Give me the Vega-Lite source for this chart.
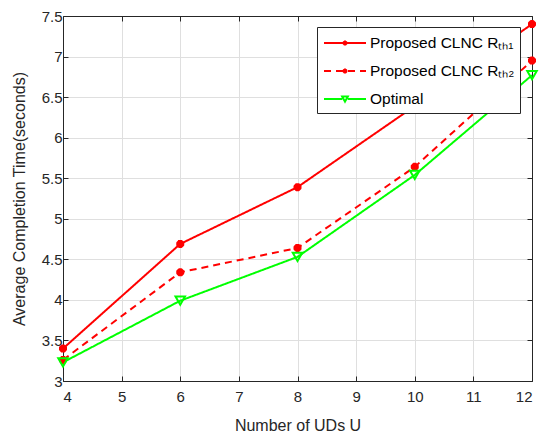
{
  "$schema": "https://vega.github.io/schema/vega-lite/v6.json",
  "autosize": "none",
  "width": 469,
  "height": 365,
  "padding": {"left": 63, "top": 16, "right": 9, "bottom": 54},
  "background": "white",
  "config": {
    "font": "Liberation Sans",
    "view": {"stroke": null},
    "axis": {
      "labelFont": "Liberation Sans",
      "titleFont": "Liberation Sans",
      "labelFontSize": 15,
      "titleFontSize": 16,
      "titleFontWeight": "normal",
      "labelColor": "#262626",
      "titleColor": "#262626",
      "domainColor": "#262626",
      "tickColor": "#262626",
      "gridColor": "#dfdfdf",
      "gridWidth": 1,
      "domainWidth": 1,
      "tickSize": -5,
      "tickWidth": 1
    }
  },
  "data": {
    "values": [
      {"U": 4, "value": 3.40, "series": "Proposed CLNC Rₜₕ₁"},
      {"U": 6, "value": 4.69, "series": "Proposed CLNC Rₜₕ₁"},
      {"U": 8, "value": 5.39, "series": "Proposed CLNC Rₜₕ₁"},
      {"U": 10, "value": 6.39, "series": "Proposed CLNC Rₜₕ₁"},
      {"U": 12, "value": 7.40, "series": "Proposed CLNC Rₜₕ₁"},
      {"U": 4, "value": 3.26, "series": "Proposed CLNC Rₜₕ₂"},
      {"U": 6, "value": 4.34, "series": "Proposed CLNC Rₜₕ₂"},
      {"U": 8, "value": 4.64, "series": "Proposed CLNC Rₜₕ₂"},
      {"U": 10, "value": 5.64, "series": "Proposed CLNC Rₜₕ₂"},
      {"U": 12, "value": 6.95, "series": "Proposed CLNC Rₜₕ₂"},
      {"U": 4, "value": 3.23, "series": "Optimal"},
      {"U": 6, "value": 3.99, "series": "Optimal"},
      {"U": 8, "value": 4.53, "series": "Optimal"},
      {"U": 10, "value": 5.54, "series": "Optimal"},
      {"U": 12, "value": 6.77, "series": "Optimal"}
    ]
  },
  "resolve": {"axis": {"x": "independent", "y": "independent"}},
  "layer": [
    {
      "mark": {"type": "line", "strokeWidth": 2},
      "encoding": {
        "x": {
          "field": "U", "type": "quantitative",
          "scale": {"domain": [4, 12], "nice": false, "zero": false},
          "axis": {"title": "Number of UDs U", "values": [4,5,6,7,8,9,10,11,12], "labelPadding": 13, "titlePadding": 13, "grid": true}
        },
        "y": {
          "field": "value", "type": "quantitative",
          "scale": {"domain": [3, 7.5], "nice": false, "zero": false},
          "axis": {"title": "Average Completion Time(seconds)", "format": "~g", "values": [3,3.5,4,4.5,5,5.5,6,6.5,7,7.5], "labelPadding": 6, "titlePadding": 14, "grid": true}
        },
        "color": {
          "field": "series", "type": "nominal",
          "scale": {
            "domain": ["Proposed CLNC Rₜₕ₁", "Proposed CLNC Rₜₕ₂", "Optimal"],
            "range": ["#ff0000", "#ff0000", "#00ff00"]
          },
          "legend": {
            "title": null,
            "orient": "none",
            "legendX": 254,
            "legendY": 11,
            "fillColor": "white",
            "strokeColor": "#262626",
            "padding": 5,
            "rowPadding": 8,
            "labelFont": "Liberation Sans",
            "labelFontSize": 15.5,
            "labelColor": "#000000",
            "labelOffset": 14,
            "symbolOffset": 12,
            "symbolSize": 400,
            "symbolStrokeWidth": 2,
            "symbolType": "M-2.1,0L2.1,0",
            "labelLimit": 300,
            "encode": {
              "symbols": {
                "update": {
                  "shape": {"signal": "datum.value === 'Optimal' ? 'M-2.1,0L-0.28,0M0.28,0L2.1,0M-0.28,-0.24L0.28,-0.24L0,0.26Z' : 'M-2.1,0L2.1,0M-0.24,0L0.24,0M0,-0.24L0,0.24M-0.17,-0.17L0.17,0.17M-0.17,0.17L0.17,-0.17'"},
                  "strokeDash": {"signal": "datum.value === 'Proposed CLNC Rₜₕ₂' ? [7,5] : [1,0]"},
                  "fill": {"value": "transparent"}
                }
              }
            }
          }
        },
        "strokeDash": {
          "field": "series", "type": "nominal",
          "scale": {
            "domain": ["Proposed CLNC Rₜₕ₁", "Proposed CLNC Rₜₕ₂", "Optimal"],
            "range": [[1, 0], [7, 5], [1, 0]]
          },
          "legend": null
        }
      }
    },
    {
      "transform": [{"filter": "datum.series !== 'Optimal'"}],
      "mark": {
        "type": "point",
        "shape": "M-1,0L1,0M0,-1L0,1M-0.7,-0.7L0.7,0.7M-0.7,0.7L0.7,-0.7",
        "filled": false,
        "stroke": "#ff0000",
        "strokeWidth": 3,
        "size": 64,
        "opacity": 1
      },
      "encoding": {
        "x": {"field": "U", "type": "quantitative", "scale": {"domain": [4, 12], "nice": false, "zero": false}, "axis": {"orient": "top", "title": null, "labels": false, "values": [4,5,6,7,8,9,10,11,12], "grid": false}},
        "y": {"field": "value", "type": "quantitative", "scale": {"domain": [3, 7.5], "nice": false, "zero": false}, "axis": {"orient": "right", "title": null, "labels": false, "values": [3,3.5,4,4.5,5,5.5,6,6.5,7,7.5], "grid": false}}
      }
    },
    {
      "transform": [{"filter": "datum.series === 'Optimal'"}],
      "mark": {
        "type": "point",
        "shape": "triangle-down",
        "filled": false,
        "stroke": "#00ff00",
        "strokeWidth": 2,
        "size": 90,
        "opacity": 1
      },
      "encoding": {
        "x": {"field": "U", "type": "quantitative", "scale": {"domain": [4, 12], "nice": false, "zero": false}, "axis": null},
        "y": {"field": "value", "type": "quantitative", "scale": {"domain": [3, 7.5], "nice": false, "zero": false}, "axis": null}
      }
    }
  ]
}
